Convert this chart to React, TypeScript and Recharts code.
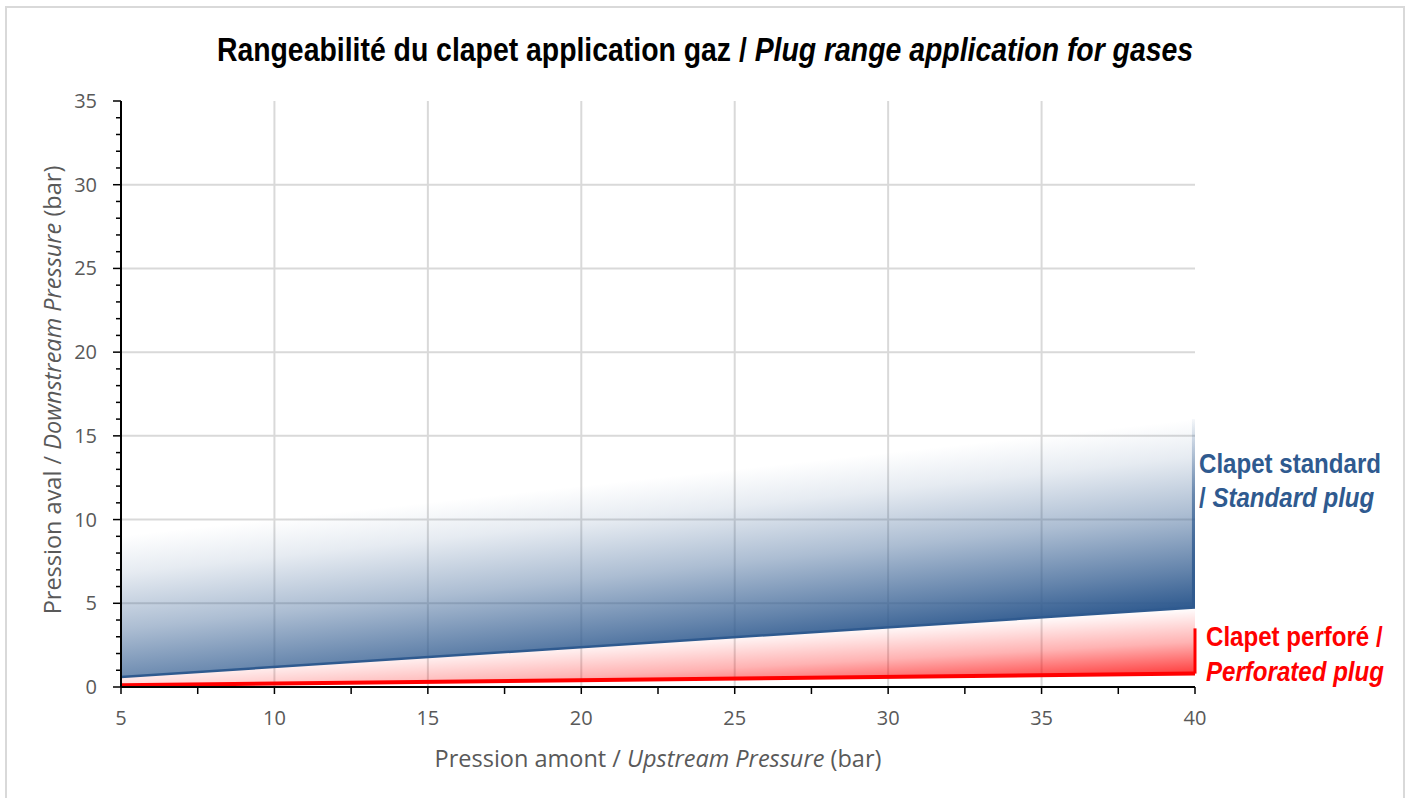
import {
  Area,
  CartesianGrid,
  ComposedChart,
  Line,
  ReferenceArea,
  ReferenceLine,
  XAxis,
  YAxis,
} from "recharts";

// upstream pressure (bar) at the two ends of the curves
const upstream = [5, 40];
// standard plug: lower limit line and top of the shaded band
const standardLow = [0.6, 4.75];
const standardHigh = [11.8, 16];
// perforated plug: lower limit line
const perforatedLow = [0.1, 0.8];
const perforatedMarkTop = 3.5;

const xTicks = [5, 7.5, 10, 12.5, 15, 17.5, 20, 22.5, 25, 27.5, 30, 32.5, 35, 37.5, 40];
const xLabels = [5, 10, 15, 20, 25, 30, 35, 40];
const yTicks = [
  0, 1, 2, 3, 4, 5, 6, 7, 8, 9, 10, 11, 12, 13, 14, 15, 16, 17, 18, 19, 20, 21, 22, 23, 24, 25,
  26, 27, 28, 29, 30, 31, 32, 33, 34, 35,
];
const yLabels = [0, 5, 10, 15, 20, 25, 30, 35];

const data = upstream.map((x, i) => ({
  x,
  standard: [standardLow[i], standardHigh[i]],
  perforated: [perforatedLow[i], standardLow[i]],
  standardLine: standardLow[i],
  perforatedLine: perforatedLow[i],
}));

const BLUE = "#2f5a8f";
const RED = "#ff0000";
const GREY = "#595959";
const FONT = "'Open Sans', Lato, sans-serif";
const NARROW = "'Liberation Sans', Arial, sans-serif";

const YTick = ({ x, y, payload }: any) => {
  const major = yLabels.includes(payload.value);
  return (
    <g>
      <line x1={x - (major ? 8 : 5)} x2={x} y1={y} y2={y} stroke="#000" strokeWidth={1.5} />
      {major && (
        <text x={x - 24} y={y} dy="0.35em" textAnchor="end" fill={GREY} fontSize={20} fontFamily={FONT}>
          {payload.value}
        </text>
      )}
    </g>
  );
};

const XTick = ({ x, y, payload }: any) => {
  const major = xLabels.includes(payload.value);
  return (
    <g>
      <line x1={x} x2={x} y1={y} y2={y + 7} stroke="#000" strokeWidth={1.5} />
      {major && (
        <text x={x} y={y + 31} dy="0.35em" textAnchor="middle" fill={GREY} fontSize={20} fontFamily={FONT}>
          {payload.value}
        </text>
      )}
    </g>
  );
};

const narrowText = (size: number, color: string, scale: number) => ({
  fontFamily: NARROW,
  fontWeight: "bold" as const,
  fontSize: size,
  color,
  whiteSpace: "nowrap" as const,
  transform: `scaleX(${scale})`,
});

export default function App() {
  return (
    <div style={{ position: "absolute", left: 0, top: 0, width: 1408, height: 798, overflow: "hidden", background: "#fff" }}>
      <div
        style={{
          position: "absolute",
          left: 5,
          top: 6,
          width: 1396,
          height: 820,
          border: "2px solid #d9d9d9",
          borderBottom: "none",
        }}
      />
      <div
        style={{
          position: "absolute",
          left: 0,
          width: 1410,
          top: 29,
          textAlign: "center",
          lineHeight: "42px",
          ...narrowText(33, "#000", 0.86),
        }}
      >
        Rangeabilité du clapet application gaz / <i>Plug range application for gases</i>
      </div>

      <ComposedChart
        width={1408}
        height={798}
        data={data}
        margin={{ top: 101, right: 213, bottom: 81, left: 61 }}
      >
        <defs>
          <linearGradient id="blueFade" x1="1" y1="0.73" x2="0.726" y2="0.124">
            <stop offset="0" stopColor={BLUE} stopOpacity={1} />
            <stop offset="0.2" stopColor={BLUE} stopOpacity={0.75} />
            <stop offset="0.5" stopColor={BLUE} stopOpacity={0.4} />
            <stop offset="0.8" stopColor={BLUE} stopOpacity={0.12} />
            <stop offset="1" stopColor={BLUE} stopOpacity={0} />
          </linearGradient>
          <linearGradient id="redFade" x1="1" y1="0.88" x2="0.574" y2="0.335">
            <stop offset="0" stopColor={RED} stopOpacity={0.8} />
            <stop offset="0.5" stopColor={RED} stopOpacity={0.3} />
            <stop offset="1" stopColor={RED} stopOpacity={0} />
          </linearGradient>
          <linearGradient id="blueEdge" x1="0" y1="1" x2="0" y2="0">
            <stop offset="0" stopColor={BLUE} stopOpacity={1} />
            <stop offset="0.6" stopColor={BLUE} stopOpacity={0.6} />
            <stop offset="1" stopColor={BLUE} stopOpacity={0.05} />
          </linearGradient>
        </defs>
        <CartesianGrid
          stroke="#d9d9d9"
          strokeWidth={2}
          horizontalValues={[5, 10, 15, 20, 25, 30]}
          verticalValues={[10, 15, 20, 25, 30, 35]}
        />
        <XAxis
          type="number"
          dataKey="x"
          domain={[5, 40]}
          ticks={xTicks}
          interval={0}
          height={30}
          tickSize={0}
          tickMargin={0}
          tickLine={false}
          tick={<XTick />}
          axisLine={{ stroke: "#000", strokeWidth: 2 }}
        />
        <YAxis
          type="number"
          domain={[0, 35]}
          ticks={yTicks}
          interval={0}
          width={60}
          tickSize={0}
          tickMargin={0}
          tickLine={false}
          tick={<YTick />}
          axisLine={{ stroke: "#000", strokeWidth: 2 }}
        />
        <Area
          type="linear"
          dataKey="standard"
          stroke="none"
          fill="url(#blueFade)"
          fillOpacity={1}
          isAnimationActive={false}
        />
        <Area
          type="linear"
          dataKey="perforated"
          stroke="none"
          fill="url(#redFade)"
          fillOpacity={1}
          isAnimationActive={false}
        />
        <ReferenceArea
          x1={39.9}
          x2={40}
          y1={standardLow[1]}
          y2={standardHigh[1]}
          fill="url(#blueEdge)"
          fillOpacity={1}
          stroke="none"
        />
        <Line
          type="linear"
          dataKey="standardLine"
          stroke={BLUE}
          strokeWidth={2.5}
          dot={false}
          isAnimationActive={false}
        />
        <Line
          type="linear"
          dataKey="perforatedLine"
          stroke={RED}
          strokeWidth={4}
          dot={false}
          isAnimationActive={false}
        />
        <ReferenceLine
          segment={[
            { x: upstream[1], y: perforatedLow[1] },
            { x: upstream[1], y: perforatedMarkTop },
          ]}
          stroke={RED}
          strokeWidth={3}
        />
      </ComposedChart>

      <div
        style={{
          position: "absolute",
          left: 658 - 300,
          width: 600,
          top: 743,
          textAlign: "center",
          fontFamily: FONT,
          fontSize: 23.5,
          lineHeight: "30px",
          color: GREY,
        }}
      >
        Pression amont / <i>Upstream Pressure</i> (bar)
      </div>
      <div
        style={{
          position: "absolute",
          left: 52 - 300,
          width: 600,
          top: 390 - 15,
          textAlign: "center",
          fontFamily: FONT,
          fontSize: 23.5,
          lineHeight: "30px",
          color: GREY,
          transform: "rotate(-90deg)",
        }}
      >
        Pression aval / <i>Downstream Pressure</i> (bar)
      </div>

      <div
        style={{
          position: "absolute",
          left: 1199,
          top: 447,
          lineHeight: "34px",
          transformOrigin: "0 0",
          ...narrowText(28, BLUE, 0.86),
        }}
      >
        Clapet standard
        <br />/ <i>Standard plug</i>
      </div>
      <div
        style={{
          position: "absolute",
          left: 1206,
          top: 619,
          lineHeight: "35px",
          transformOrigin: "0 0",
          ...narrowText(28, RED, 0.86),
        }}
      >
        Clapet perforé /
        <br />
        <i>Perforated plug</i>
      </div>
    </div>
  );
}
